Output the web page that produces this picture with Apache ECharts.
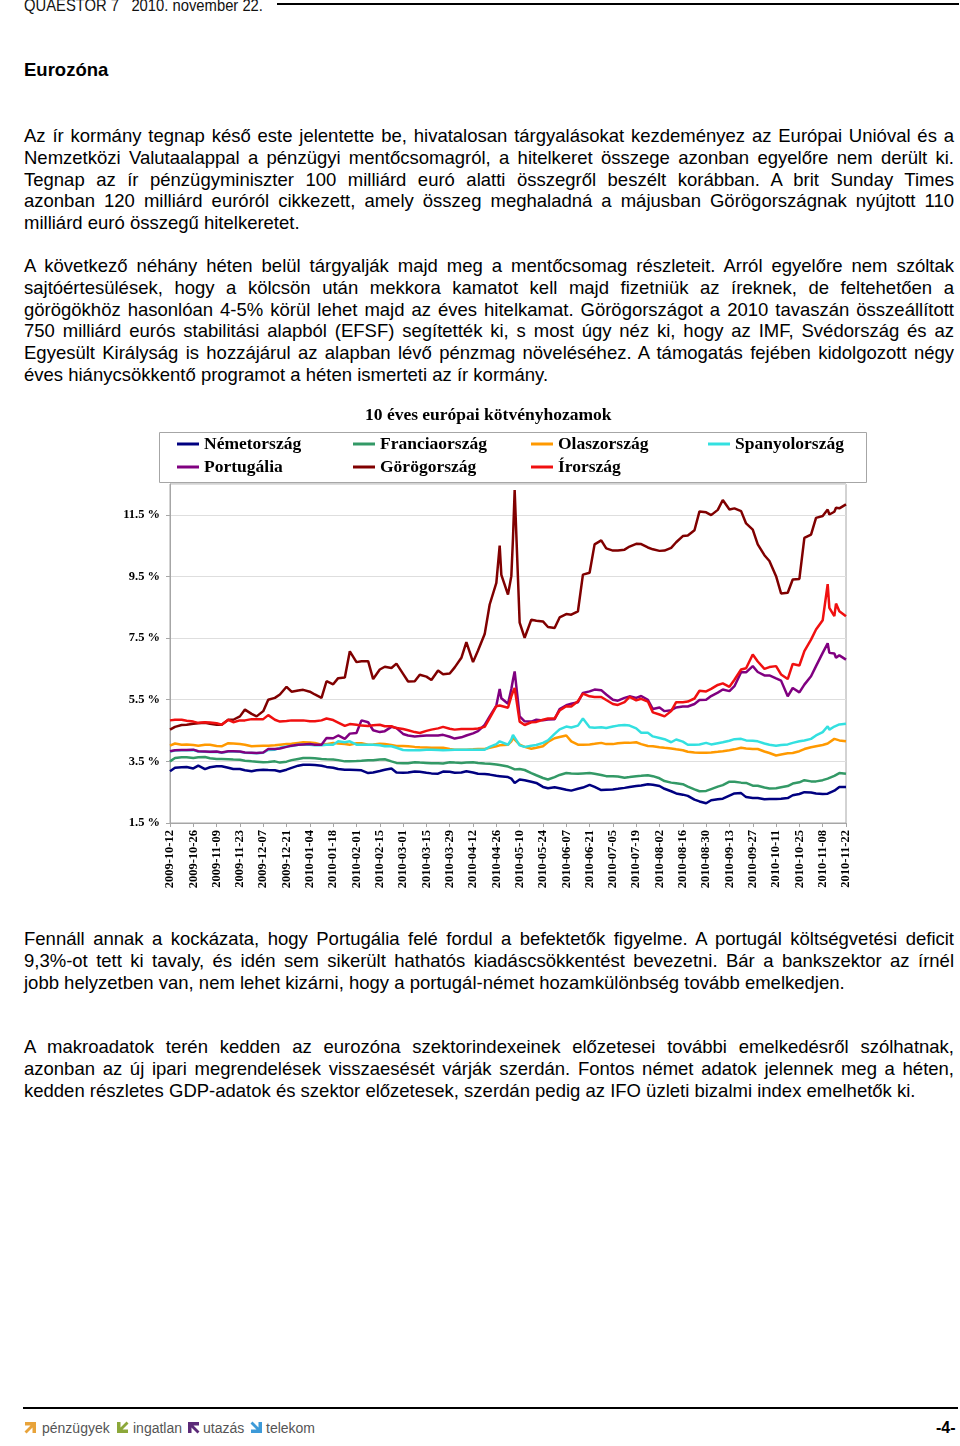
<!DOCTYPE html>
<html><head><meta charset="utf-8">
<script src="https://cdn.jsdelivr.net/npm/echarts@6/dist/echarts.min.js"></script>
<style>
html,body{margin:0;padding:0;background:#fff;}
body{width:960px;height:1446px;position:relative;overflow:hidden;font-family:'Liberation Sans',Arial,sans-serif;color:#000;}
.hdr{position:absolute;left:24px;top:-3px;font-family:'Liberation Sans',Arial,sans-serif;font-size:17px;line-height:17px;white-space:pre;color:#111;transform:scaleX(0.87);transform-origin:0 0;}
.hline{position:absolute;left:277px;top:3px;width:682px;height:2px;background:#000;}
.h1{position:absolute;left:24px;top:61px;font-size:18.5px;line-height:18.5px;font-weight:bold;}
.para{position:absolute;left:24px;width:930px;font-size:18.5px;line-height:21.8px;}
.para div{text-align:justify;text-align-last:justify;}
.para div.last{text-align-last:left;}
#chart{position:absolute;left:0;top:395px;width:960px;height:510px;}
.fline{position:absolute;left:23px;top:1407px;width:935px;height:2px;background:#000;}
.foot{position:absolute;top:1420px;font-size:14px;line-height:16px;color:#555;}
.foot svg{position:absolute;top:1px;}
.pg{position:absolute;left:936px;top:1419px;font-size:16px;line-height:18px;font-weight:bold;}
</style></head>
<body>
<div class="hdr">QUAESTOR 7   2010. november 22.</div>
<div class="hline"></div>
<div class="h1">Eurozóna</div>

<div class="para" style="top:125px">
<div>Az ír kormány tegnap késő este jelentette be, hivatalosan tárgyalásokat kezdeményez az Európai Unióval és a</div>
<div>Nemzetközi Valutaalappal a pénzügyi mentőcsomagról, a hitelkeret összege azonban egyelőre nem derült ki.</div>
<div>Tegnap az ír pénzügyminiszter 100 milliárd euró alatti összegről beszélt korábban. A brit Sunday Times</div>
<div>azonban 120 milliárd euróról cikkezett, amely összeg meghaladná a májusban Görögországnak nyújtott 110</div>
<div class="last">milliárd euró összegű hitelkeretet.</div>
</div>

<div class="para" style="top:255px">
<div>A következő néhány héten belül tárgyalják majd meg a mentőcsomag részleteit. Arról egyelőre nem szóltak</div>
<div>sajtóértesülések, hogy a kölcsön után mekkora kamatot kell majd fizetniük az íreknek, de feltehetően a</div>
<div>görögökhöz hasonlóan 4-5% körül lehet majd az éves hitelkamat. Görögországot a 2010 tavaszán összeállított</div>
<div>750 milliárd eurós stabilitási alapból (EFSF) segítették ki, s most úgy néz ki, hogy az IMF, Svédország és az</div>
<div>Egyesült Királyság is hozzájárul az alapban lévő pénzmag növeléséhez. A támogatás fejében kidolgozott négy</div>
<div class="last">éves hiánycsökkentő programot a héten ismerteti az ír kormány.</div>
</div>

<div id="chart"></div>

<div class="para" style="top:928px">
<div>Fennáll annak a kockázata, hogy Portugália felé fordul a befektetők figyelme. A portugál költségvetési deficit</div>
<div>9,3%-ot tett ki tavaly, és idén sem sikerült hathatós kiadáscsökkentést bevezetni. Bár a bankszektor az írnél</div>
<div class="last">jobb helyzetben van, nem lehet kizárni, hogy a portugál-német hozamkülönbség tovább emelkedjen.</div>
</div>

<div class="para" style="top:1036px">
<div>A makroadatok terén kedden az eurozóna szektorindexeinek előzetesei további emelkedésről szólhatnak,</div>
<div>azonban az új ipari megrendelések visszaesését várják szerdán. Fontos német adatok jelennek meg a héten,</div>
<div class="last">kedden részletes GDP-adatok és szektor előzetesek, szerdán pedig az IFO üzleti bizalmi index emelhetők ki.</div>
</div>

<div class="fline"></div>
<div class="foot" style="left:24px;width:300px;">
<svg width="13" height="13" style="left:0"><path d="M1 1H12V12H8.5V6.5L2.5 12.5L0.5 10.5L6.5 4.5H1Z" fill="#e8a33a"/></svg>
<span style="position:absolute;left:18px">pénzügyek</span>
<svg width="13" height="13" style="left:92px"><path d="M1 1H4.5V6.5L10.5 0.5L12.5 2.5L6.5 8.5H12V12H1Z" fill="#8ca83a"/></svg>
<span style="position:absolute;left:109px">ingatlan</span>
<svg width="13" height="13" style="left:163px"><path d="M1 1H12V4.5H6.5L12.5 10.5L10.5 12.5L4.5 6.5V12H1Z" fill="#5b2a78"/></svg>
<span style="position:absolute;left:179px">utazás</span>
<svg width="13" height="13" style="left:226px"><path d="M12 1V12H1V8.5H6.5L0.5 2.5L2.5 0.5L8.5 6.5V1Z" fill="#3d9ad8"/></svg>
<span style="position:absolute;left:242px">telekom</span>
</div>
<div class="pg">-4-</div>

<script>
const seriesNames = ['Németország','Franciaország','Olaszország','Spanyolország','Portugália','Görögország','Írország'];
const seriesColors = ['#000080','#339966','#FF9900','#33E0E0','#800080','#800000','#F01010'];
const tickDates = ['2009-10-12','2009-10-26','2009-11-09','2009-11-23','2009-12-07','2009-12-21','2010-01-04','2010-01-18','2010-02-01','2010-02-15','2010-03-01','2010-03-15','2010-03-29','2010-04-12','2010-04-26','2010-05-10','2010-05-24','2010-06-07','2010-06-21','2010-07-05','2010-07-19','2010-08-02','2010-08-16','2010-08-30','2010-09-13','2010-09-27','2010-10-11','2010-10-25','2010-11-08','2010-11-22'];
const yTickValues = [1.5,3.5,5.5,7.5,9.5,11.5];

const dates = ['2009-10-12','2009-10-15','2009-10-19','2009-10-22','2009-10-26','2009-10-29','2009-11-02','2009-11-05','2009-11-09','2009-11-12','2009-11-16','2009-11-19','2009-11-23','2009-11-26','2009-11-30','2009-12-03','2009-12-07','2009-12-10','2009-12-14','2009-12-17','2009-12-21','2009-12-24','2009-12-28','2009-12-31','2010-01-04','2010-01-07','2010-01-11','2010-01-14','2010-01-18','2010-01-21','2010-01-25','2010-01-28','2010-02-01','2010-02-04','2010-02-08','2010-02-11','2010-02-15','2010-02-18','2010-02-22','2010-02-25',
'2010-03-01','2010-03-04','2010-03-08','2010-03-11','2010-03-15','2010-03-18','2010-03-22','2010-03-25','2010-03-29','2010-04-01','2010-04-05','2010-04-08','2010-04-12','2010-04-15','2010-04-19','2010-04-22','2010-04-26','2010-04-28','2010-04-29','2010-05-03','2010-05-05','2010-05-06','2010-05-07','2010-05-10','2010-05-13','2010-05-17','2010-05-20','2010-05-24','2010-05-27','2010-05-31','2010-06-03','2010-06-07','2010-06-10','2010-06-14','2010-06-17','2010-06-21','2010-06-24','2010-06-28','2010-07-01','2010-07-05','2010-07-08','2010-07-12','2010-07-15',
'2010-07-19','2010-07-22','2010-07-26','2010-07-29','2010-08-02','2010-08-05','2010-08-09','2010-08-12','2010-08-16','2010-08-19','2010-08-23','2010-08-26','2010-08-30','2010-09-02','2010-09-06','2010-09-09','2010-09-13','2010-09-16','2010-09-20','2010-09-23','2010-09-27','2010-09-30','2010-10-04','2010-10-07','2010-10-11','2010-10-14','2010-10-18','2010-10-21','2010-10-25','2010-10-28','2010-11-01','2010-11-04','2010-11-08','2010-11-11','2010-11-12','2010-11-15','2010-11-16','2010-11-18','2010-11-22'];

const germany = [3.18,3.29,3.31,3.32,3.27,3.36,3.25,3.31,3.34,3.34,3.29,3.25,3.25,3.21,3.18,3.21,3.23,3.22,3.21,3.17,3.23,3.29,3.36,3.39,3.39,3.38,3.36,3.32,3.29,3.25,3.23,3.23,3.22,3.21,3.12,3.14,3.19,3.23,3.27,3.14,
3.13,3.14,3.17,3.16,3.13,3.11,3.10,3.17,3.16,3.13,3.14,3.18,3.14,3.10,3.09,3.07,3.03,3.02,3.02,2.99,2.94,2.87,2.80,2.91,2.89,2.84,2.80,2.67,2.63,2.66,2.63,2.58,2.55,2.61,2.65,2.74,2.67,2.57,2.58,2.59,2.61,2.64,2.67,
2.70,2.72,2.76,2.74,2.70,2.61,2.53,2.46,2.42,2.38,2.26,2.20,2.14,2.24,2.27,2.29,2.39,2.46,2.47,2.34,2.31,2.31,2.27,2.28,2.28,2.29,2.31,2.40,2.44,2.50,2.49,2.46,2.44,2.45,2.47,2.55,2.58,2.67,2.67];

const france = [3.50,3.61,3.63,3.63,3.61,3.63,3.64,3.60,3.58,3.58,3.57,3.56,3.55,3.52,3.50,3.49,3.47,3.48,3.50,3.46,3.49,3.54,3.58,3.61,3.61,3.60,3.58,3.57,3.56,3.54,3.50,3.50,3.51,3.52,3.54,3.54,3.56,3.57,3.50,3.45,
3.44,3.44,3.47,3.46,3.45,3.44,3.44,3.43,3.47,3.46,3.45,3.46,3.47,3.45,3.43,3.42,3.40,3.38,3.37,3.33,3.29,3.26,3.24,3.25,3.22,3.12,3.05,2.96,2.91,2.99,3.06,3.12,3.11,3.10,3.11,3.12,3.10,3.06,3.02,3.02,3.01,2.97,2.99,
3.02,3.03,3.05,3.02,2.95,2.86,2.81,2.79,2.76,2.68,2.59,2.53,2.54,2.60,2.68,2.73,2.84,2.84,2.81,2.80,2.71,2.71,2.65,2.62,2.63,2.66,2.70,2.78,2.82,2.89,2.85,2.85,2.89,2.94,2.96,3.03,3.06,3.12,3.10];

const italy = [4.01,4.08,4.04,4.05,4.03,4.01,4.04,4.04,4.00,3.99,4.09,4.08,4.06,4.04,3.99,4.00,4.01,4.01,4.02,4.04,4.06,4.07,4.10,4.12,4.11,4.10,4.04,4.06,4.10,4.08,4.06,4.04,4.09,4.09,4.04,4.05,4.07,4.06,4.03,4.00,
4.00,3.99,3.97,3.96,3.95,3.94,3.94,3.94,3.90,3.88,3.88,3.88,3.89,3.90,3.90,3.94,3.99,4.02,4.03,4.04,4.15,4.26,4.26,4.04,3.97,3.91,3.94,3.99,4.13,4.25,4.29,4.34,4.15,4.04,4.04,4.05,4.07,4.10,4.06,4.06,4.09,4.10,4.10,
4.12,4.06,4.00,3.99,3.96,3.94,3.92,3.89,3.86,3.81,3.79,3.78,3.78,3.79,3.81,3.83,3.86,3.89,3.94,3.92,3.90,3.90,3.82,3.77,3.69,3.72,3.76,3.77,3.83,3.90,3.96,3.99,4.03,4.08,4.10,4.23,4.21,4.18,4.15];

const spain = [3.82,3.85,3.86,3.86,3.87,3.82,3.81,3.80,3.81,3.78,3.82,3.82,3.81,3.78,3.77,3.76,3.78,3.87,3.88,3.94,3.98,4.00,4.04,4.04,4.04,4.02,4.02,4.04,4.04,4.15,4.12,4.15,4.04,4.04,4.04,4.04,4.02,3.99,3.99,3.94,
3.87,3.86,3.86,3.86,3.88,3.88,3.87,3.86,3.87,3.88,3.88,3.88,3.88,3.88,3.88,3.97,4.06,4.15,4.15,4.04,4.21,4.36,4.37,4.02,3.97,4.01,4.03,4.10,4.18,4.39,4.54,4.63,4.60,4.66,4.89,4.61,4.59,4.61,4.58,4.63,4.66,4.68,4.66,
4.57,4.43,4.43,4.31,4.26,4.22,4.12,4.21,4.14,4.04,4.04,4.05,4.10,4.05,4.09,4.12,4.17,4.22,4.23,4.18,4.17,4.15,4.08,4.04,4.01,4.03,4.05,4.10,4.15,4.18,4.23,4.34,4.45,4.64,4.53,4.63,4.64,4.70,4.72];

const portugal = [3.83,3.86,3.87,3.87,3.88,3.83,3.82,3.81,3.82,3.79,3.83,3.83,3.82,3.79,3.78,3.77,3.79,3.90,3.90,3.92,3.97,4.01,4.04,4.05,4.06,4.04,4.04,4.26,4.25,4.34,4.23,4.40,4.42,4.83,4.77,4.51,4.45,4.48,4.62,4.58,
4.39,4.34,4.31,4.32,4.34,4.34,4.34,4.36,4.30,4.24,4.28,4.34,4.41,4.48,4.68,4.96,5.31,5.85,5.55,5.37,5.85,6.15,6.42,4.96,4.80,4.79,4.85,4.83,4.86,4.87,5.20,5.32,5.37,5.42,5.72,5.77,5.83,5.81,5.67,5.50,5.47,5.56,5.61,
5.56,5.62,5.50,5.20,5.25,5.13,5.16,5.25,5.28,5.28,5.36,5.49,5.50,5.62,5.73,5.83,5.78,5.94,6.39,6.39,6.59,6.40,6.29,6.29,6.19,6.12,5.61,5.88,5.74,5.99,6.26,6.59,7.02,7.33,7.02,7.00,6.86,6.94,6.80];

const greece = [4.53,4.62,4.68,4.69,4.72,4.74,4.75,4.72,4.69,4.69,4.85,4.85,4.96,5.18,5.04,4.96,5.13,5.50,5.56,5.67,5.92,5.76,5.80,5.82,5.76,5.67,5.56,6.10,6.00,6.20,6.22,7.07,6.72,6.75,6.75,6.17,6.48,6.57,6.53,6.67,
6.34,6.09,6.10,6.31,6.25,6.14,6.45,6.33,6.35,6.55,6.86,7.37,6.72,7.10,7.63,8.59,9.29,10.50,9.55,8.91,9.51,10.75,12.30,8.00,7.51,8.10,8.06,8.04,7.86,7.83,8.17,8.28,8.26,8.37,9.56,9.62,10.54,10.67,10.41,10.34,10.34,10.37,10.47,
10.56,10.55,10.44,10.38,10.33,10.34,10.43,10.61,10.81,10.83,11.00,11.61,11.58,11.49,11.66,11.98,11.67,11.71,11.62,11.22,11.02,10.54,10.19,10.00,9.51,8.95,8.97,9.40,9.42,10.75,10.86,11.40,11.46,11.67,11.51,11.60,11.73,11.71,11.84];

const ireland = [4.83,4.85,4.85,4.82,4.79,4.75,4.77,4.76,4.74,4.69,4.85,4.77,4.83,4.83,4.87,4.87,4.87,5.00,4.85,4.79,4.81,4.83,4.83,4.83,4.80,4.80,4.83,4.89,4.84,4.76,4.65,4.71,4.69,4.66,4.65,4.67,4.69,4.64,4.64,4.58,
4.55,4.51,4.45,4.42,4.49,4.53,4.57,4.62,4.56,4.53,4.55,4.55,4.55,4.57,4.62,4.90,5.29,5.31,5.30,5.24,5.61,5.76,5.88,4.79,4.68,4.77,4.78,4.85,4.89,4.89,5.15,5.29,5.28,5.45,5.70,5.61,5.59,5.59,5.49,5.36,5.33,5.42,5.59,
5.48,5.53,5.44,5.09,5.02,4.96,5.13,5.42,5.42,5.44,5.54,5.79,5.77,5.85,5.98,6.03,5.92,6.15,6.48,6.52,6.97,6.74,6.50,6.56,6.59,6.32,6.17,6.66,6.61,7.08,7.45,7.78,8.08,9.25,8.48,8.21,8.62,8.37,8.21];

const seriesValues = [germany, france, italy, spain, portugal, greece, ireland];

const DAY = 86400000;
const base = Date.parse(tickDates[0]);
const xDays = dates.map(d => Math.round((Date.parse(d) - base) / DAY));
const lastDay = Math.round((Date.parse(tickDates[tickDates.length - 1]) - base) / DAY);
const step = Math.round((Date.parse(tickDates[1]) - base) / DAY);

const serif = "'Liberation Serif','Times New Roman',serif";
const legendCols = [177, 353, 531, 708];
const legendRows = [40, 63];

const chart = echarts.init(document.getElementById('chart'), null, {renderer: 'canvas'});
chart.setOption({
  animation: false,
  backgroundColor: '#fff',
  title: {
    text: '10 éves európai kötvényhozamok',
    left: 365, top: 11, padding: 0,
    textStyle: {fontFamily: serif, fontWeight: 'bold', fontSize: 17.5, color: '#000'}
  },
  graphic: [{
    type: 'rect', left: 157, top: 35, z: 0,
    shape: {width: 707, height: 50},
    style: {fill: 'none', stroke: '#a6a6a6', lineWidth: 1}
  }],
  legend: seriesNames.map((n, i) => ({
    data: [n],
    left: legendCols[i % 4],
    top: legendRows[Math.floor(i / 4)],
    padding: 0,
    icon: 'rect',
    itemWidth: 22,
    itemHeight: 3,
    selectedMode: false,
    textStyle: {fontFamily: serif, fontWeight: 'bold', fontSize: 17.5, color: '#000'}
  })),
  grid: {left: 170, right: 114, top: 89, bottom: 82, show: true, borderColor: '#a6a6a6', borderWidth: 1, containLabel: false},
  xAxis: {
    type: 'value', min: 0, max: lastDay, interval: step,
    axisLine: {show: true, lineStyle: {color: '#a6a6a6', width: 1}},
    axisTick: {show: true, length: 4, lineStyle: {color: '#a6a6a6'}},
    splitLine: {show: false},
    axisLabel: {
      rotate: 90, margin: 7,
      fontFamily: serif, fontWeight: 'bold', fontSize: 12.5, color: '#000',
      formatter: v => tickDates[Math.round(v / step)] || ''
    }
  },
  yAxis: {
    type: 'value', min: yTickValues[0], max: yTickValues[yTickValues.length - 1] + 1,
    interval: yTickValues[1] - yTickValues[0],
    axisLine: {show: true, lineStyle: {color: '#a6a6a6', width: 1}},
    axisTick: {show: true, length: 4, lineStyle: {color: '#a6a6a6'}},
    splitLine: {show: true, lineStyle: {color: '#dedede', width: 1}},
    axisLabel: {
      margin: 10, showMaxLabel: false,
      fontFamily: serif, fontWeight: 'bold', fontSize: 12.5, color: '#000',
      formatter: v => yTickValues.some(t => Math.abs(t - v) < 1e-6) ? v.toFixed(1) + ' %' : ''
    }
  },
  series: seriesNames.map((n, i) => ({
    name: n,
    type: 'line',
    showSymbol: false,
    symbol: 'none',
    color: seriesColors[i],
    lineStyle: {width: 2.5, color: seriesColors[i]},
    data: xDays.map((x, j) => [x, seriesValues[i][j]])
  }))
});
</script>
</body></html>
